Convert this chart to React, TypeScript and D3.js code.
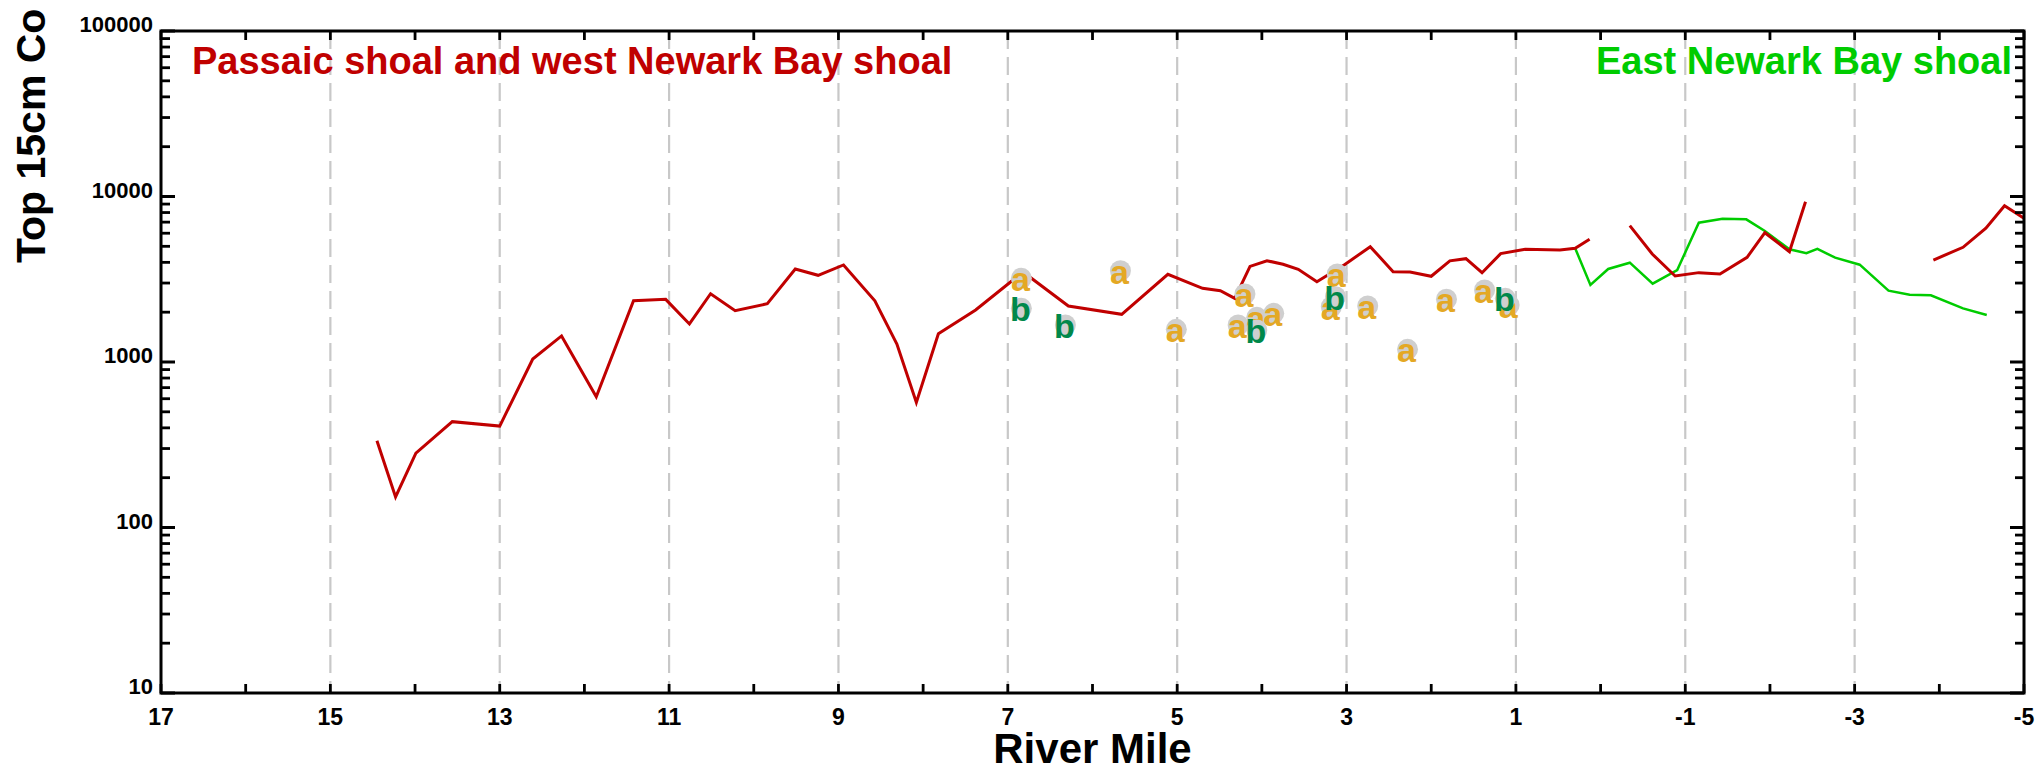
import React from 'react';
import * as d3 from 'd3';

const W = 2044;
const H = 771;
const PLOT = { left: 161, right: 2024, top: 31, bottom: 693 };

// Axis ticks
const xMinorMiles = d3.range(17, -6, -1);
const xLabelMiles = [17, 15, 13, 11, 9, 7, 5, 3, 1, -1, -3, -5];
const gridMiles = [15, 13, 11, 9, 7, 5, 3, 1, -1, -3];
const yDecades = [10, 100, 1000, 10000, 100000];
const yDecadeLabels = ['10', '100', '1000', '10000', '100000'];

// Red series (Passaic shoal and west Newark Bay shoal) – three segments
const red1Mile = [14.45, 14.23, 13.99, 13.56, 13.0, 12.61, 12.27, 11.86, 11.42, 11.04, 10.76, 10.51, 10.22, 9.84, 9.51, 9.24, 8.94, 8.57, 8.31, 8.08, 7.82, 7.38, 6.82, 6.285, 5.655, 5.11, 4.7, 4.49, 4.32, 4.14, 3.94, 3.75, 3.57, 3.35, 3.02, 2.72, 2.45, 2.25, 2.0, 1.78, 1.59, 1.4, 1.18, 0.89, 0.48, 0.3, 0.13];
const red1Val = [334, 153, 281, 436, 410, 1043, 1437, 617, 2345, 2390, 1698, 2586, 2042, 2249, 3648, 3341, 3857, 2345, 1285, 570, 1482, 2063, 3500, 2180, 1941, 3388, 2788, 2697, 2425, 3780, 4093, 3893, 3631, 3055, 3880, 4977, 3514, 3497, 3296, 4085, 4210, 3465, 4517, 4797, 4750, 4864, 5511];
const red2Mile = [-0.345, -0.61, -0.88, -1.16, -1.41, -1.73, -1.94, -2.23, -2.42];
const red2Val = [6665, 4493, 3309, 3467, 3401, 4291, 6041, 4640, 9302];
const red3Mile = [-3.93, -4.28, -4.55, -4.77, -5.0];
const red3Val = [4133, 4931, 6427, 8800, 7383];

// Green series (East Newark Bay shoal)
const greenMile = [0.3, 0.12, -0.09, -0.345, -0.615, -0.905, -1.16, -1.44, -1.72, -1.94, -2.23, -2.43, -2.56, -2.77, -3.06, -3.4, -3.65, -3.9, -4.28, -4.56];
const greenVal = [4864, 2919, 3648, 3981, 2972, 3597, 6948, 7345, 7280, 6193, 4797, 4539, 4822, 4269, 3873, 2697, 2551, 2529, 2110, 1923];

// Letter markers
const aMile = [6.84, 5.67, 5.01, 4.2, 4.28, 4.06, 3.86, 3.11, 3.18, 2.75, 2.28, 1.82, 1.37, 1.08];
const aVal = [3204, 3564, 1575, 2575, 1673, 1862, 1969, 3402, 2158, 2180, 1193, 2393, 2723, 2210];
const bMile = [6.84, 6.32, 4.06, 3.13, 1.125];
const bVal = [2109, 1673, 1560, 2482, 2425];

const RED = '#C00000';
const GREEN = '#00CC00';
const A_COLOR = '#E4A824';
const B_COLOR = '#00884A';
const FONT = '"Liberation Sans", Arial, Helvetica, sans-serif';

const x = d3.scaleLinear().domain([17, -5]).range([PLOT.left, PLOT.right]);
const y = d3.scaleLog().domain([10, 100000]).range([PLOT.bottom, PLOT.top]);

const lineGen = d3
  .line<[number, number]>()
  .x((d) => x(d[0]))
  .y((d) => y(d[1]));

const zip = (a: number[], b: number[]) => a.map((m, i) => [m, b[i]] as [number, number]);

const yMinor: number[] = [];
[10, 100, 1000, 10000].forEach((d) => {
  for (let k = 2; k <= 9; k++) yMinor.push(d * k);
});

function Marker({ mile, val, letter, color }: { mile: number; val: number; letter: string; color: string }) {
  const cx = x(mile);
  const cy = y(val);
  return (
    <g>
      <circle cx={cx} cy={cy} r={10.5} fill="#CFCFCF" />
      <text
        x={cx - 1}
        y={cy + 13}
        textAnchor="middle"
        fontFamily={FONT}
        fontWeight="bold"
        fontSize={34}
        fill={color}
      >
        {letter}
      </text>
    </g>
  );
}

export default function App() {
  const axisW = 3;
  return (
    <svg
      width={W}
      height={H}
      viewBox={`0 0 ${W} ${H}`}
      style={{ position: 'absolute', left: 0, top: 0, background: '#fff' }}
    >
      <rect x={0} y={0} width={W} height={H} fill="#fff" />
      {/* grid */}
      {gridMiles.map((m) => (
        <line
          key={`g${m}`}
          x1={x(m)}
          x2={x(m)}
          y1={PLOT.top}
          y2={PLOT.bottom}
          stroke="#C8C8C8"
          strokeWidth={2.2}
          strokeDasharray="18,8"
        />
      ))}
      {/* series */}
      <path d={lineGen(zip(greenMile, greenVal)) || ''} fill="none" stroke={GREEN} strokeWidth={2.5} />
      <path d={lineGen(zip(red1Mile, red1Val)) || ''} fill="none" stroke={RED} strokeWidth={3} />
      <path d={lineGen(zip(red2Mile, red2Val)) || ''} fill="none" stroke={RED} strokeWidth={3} />
      <path d={lineGen(zip(red3Mile, red3Val)) || ''} fill="none" stroke={RED} strokeWidth={3} />
      {/* markers */}
      {aMile.map((m, i) => (
        <Marker key={`a${i}`} mile={m} val={aVal[i]} letter="a" color={A_COLOR} />
      ))}
      {bMile.map((m, i) => (
        <Marker key={`b${i}`} mile={m} val={bVal[i]} letter="b" color={B_COLOR} />
      ))}
      {/* frame */}
      <rect
        x={PLOT.left}
        y={PLOT.top}
        width={PLOT.right - PLOT.left}
        height={PLOT.bottom - PLOT.top}
        fill="none"
        stroke="#000"
        strokeWidth={axisW}
      />
      {/* x ticks */}
      {xMinorMiles.map((m) => (
        <g key={`xt${m}`}>
          <line x1={x(m)} x2={x(m)} y1={PLOT.bottom} y2={PLOT.bottom - 9} stroke="#000" strokeWidth={2.8} />
          <line x1={x(m)} x2={x(m)} y1={PLOT.top} y2={PLOT.top + 9} stroke="#000" strokeWidth={2.8} />
        </g>
      ))}
      {/* y ticks */}
      {yDecades.map((v) => (
        <g key={`yd${v}`}>
          <line x1={PLOT.left} x2={PLOT.left + 14} y1={y(v)} y2={y(v)} stroke="#000" strokeWidth={3} />
          <line x1={PLOT.right} x2={PLOT.right - 14} y1={y(v)} y2={y(v)} stroke="#000" strokeWidth={3} />
        </g>
      ))}
      {yMinor.map((v) => (
        <g key={`ym${v}`}>
          <line x1={PLOT.left} x2={PLOT.left + 9} y1={y(v)} y2={y(v)} stroke="#000" strokeWidth={2.8} />
          <line x1={PLOT.right} x2={PLOT.right - 9} y1={y(v)} y2={y(v)} stroke="#000" strokeWidth={2.8} />
        </g>
      ))}
      {/* y labels */}
      {yDecades.map((v, i) => (
        <text
          key={`yl${v}`}
          x={153}
          y={y(v) + 1}
          textAnchor="end"
          fontFamily={FONT}
          fontWeight="bold"
          fontSize={22}
          fill="#000"
        >
          {yDecadeLabels[i]}
        </text>
      ))}
      {/* x labels */}
      {xLabelMiles.map((m) => (
        <text
          key={`xl${m}`}
          x={x(m)}
          y={725}
          textAnchor="middle"
          fontFamily={FONT}
          fontWeight="bold"
          fontSize={23}
          fill="#000"
        >
          {String(m)}
        </text>
      ))}
      {/* axis titles */}
      <text
        x={(PLOT.left + PLOT.right) / 2}
        y={763}
        textAnchor="middle"
        fontFamily={FONT}
        fontWeight="bold"
        fontSize={42}
        fill="#000"
      >
        River Mile
      </text>
      <text
        transform="translate(45,263) rotate(-90)"
        textAnchor="start"
        fontFamily={FONT}
        fontWeight="bold"
        fontSize={41}
        fill="#000"
      >
        Top 15cm Co
      </text>
      {/* annotations */}
      <text x={192} y={74} fontFamily={FONT} fontWeight="bold" fontSize={38} fill={RED}>
        Passaic shoal and west Newark Bay shoal
      </text>
      <text x={2012} y={74} textAnchor="end" fontFamily={FONT} fontWeight="bold" fontSize={38} fill={GREEN}>
        East Newark Bay shoal
      </text>
    </svg>
  );
}
